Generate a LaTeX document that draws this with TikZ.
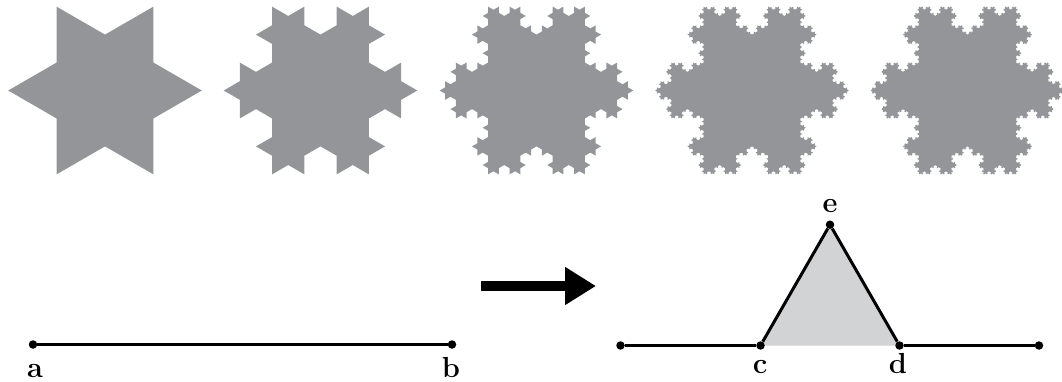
\documentclass[tikz,border=0pt]{standalone}
\usetikzlibrary{arrows.meta,lindenmayersystems}
\definecolor{flake}{HTML}{939598}
\definecolor{tri}{HTML}{D1D3D4}
\pgfdeclarelindenmayersystem{KochFlake}{\rule{F -> F--F++++F--F}}
\tikzset{
  flakefill/.style={fill=flake},
  dot/.style={circle,fill=black,inner sep=0pt,minimum size=8.5pt},
  seg/.style={line width=3pt},
  lab/.style={anchor=base,inner sep=0pt,font=\fontsize{29}{29}\selectfont\bfseries},
  bigarrow/.style={line width=10pt,-{Triangle[length=31pt,width=36pt]}}
}
\newcommand{\kochflake}[3]{% center x, center y, order
  \pgfmathsetmacro{\kstep}{167.7/(3^#3)}
  \begin{scope}[shift={(#1-48.41,#2-83.85)}]
  \fill[flakefill, lindenmayer system={KochFlake, axiom=+F++++F++++F, order=#3, step=\kstep pt, angle=30}]
    lindenmayer system;
  \end{scope}
}
\begin{document}
\begin{tikzpicture}[x=1pt,y=1pt]
\useasboundingbox (0,0) rectangle (1062,381);
% snowflakes
\kochflake{105}{290.5}{1}
\kochflake{320.5}{290.5}{2}
\kochflake{536.5}{290.5}{3}
\kochflake{752}{290.5}{4}
\kochflake{967.5}{290.5}{5}
% generator triangle fill
\coordinate (C) at (760.5,35.5);
\coordinate (D) at (899.5,35.5);
\coordinate (E) at (830,156.3);
\fill[tri] (C) -- (E) -- (D) -- cycle;
% dots
\node[dot] (a) at (33,36.5) {};
\node[dot] (b) at (452,36.5) {};
\node[dot] (p) at (620.5,35.5) {};
\node[dot] (c) at (C) {};
\node[dot] (d) at (D) {};
\node[dot] (e) at (E) {};
\node[dot] (q) at (1039,35.5) {};
% segments
\draw[seg] (a) -- (b);
\draw[seg] (p) -- (c);
\draw[seg] (c) -- (e);
\draw[seg] (e) -- (d);
\draw[seg] (d) -- (q);
% arrow
\coordinate (arrS) at (481,95);
\coordinate (arrE) at (596,95);
\draw[bigarrow] (arrS) -- (arrE);
% labels
\node[lab] (la) at (35,4) {a};
\node[lab] (lb) at (451,4) {b};
\node[lab] (lc) at (760,8) {c};
\node[lab] (ld) at (898,8) {d};
\node[lab] (le) at (830,169) {e};
\end{tikzpicture}
\end{document}
